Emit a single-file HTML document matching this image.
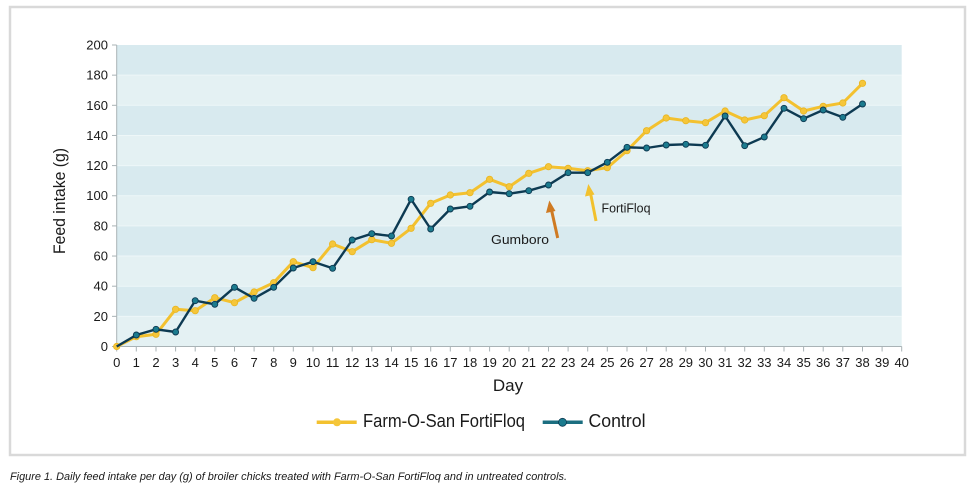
<!DOCTYPE html>
<html><head><meta charset="utf-8"><style>
html,body{margin:0;padding:0;background:#fff;width:978px;height:489px;overflow:hidden}
svg{display:block}
text{font-family:"Liberation Sans","DejaVu Sans",sans-serif;fill:#1a1a1a}
</style></head><body>
<svg width="978" height="489" viewBox="0 0 978 489" xmlns="http://www.w3.org/2000/svg">
<rect x="0" y="0" width="978" height="489" fill="#fff"/>
<rect x="10" y="7" width="955" height="448" fill="#fff" stroke="#d9d9d9" stroke-width="2.5"/>
<!-- bands -->
<rect x="116.7" y="45" width="785" height="30.15" fill="#d8eaef"/>
<rect x="116.7" y="75.15" width="785" height="30.15" fill="#e4f1f3"/>
<rect x="116.7" y="105.3" width="785" height="30.15" fill="#d8eaef"/>
<rect x="116.7" y="135.45" width="785" height="30.15" fill="#e4f1f3"/>
<rect x="116.7" y="165.6" width="785" height="30.15" fill="#d8eaef"/>
<rect x="116.7" y="195.75" width="785" height="30.15" fill="#e4f1f3"/>
<rect x="116.7" y="225.9" width="785" height="30.15" fill="#d8eaef"/>
<rect x="116.7" y="256.05" width="785" height="30.15" fill="#e4f1f3"/>
<rect x="116.7" y="286.2" width="785" height="30.15" fill="#d8eaef"/>
<rect x="116.7" y="316.35" width="785" height="30.15" fill="#e4f1f3"/>
<g stroke="#eef7f8" stroke-width="1">
<line x1="117" y1="75.15" x2="901.7" y2="75.15"/><line x1="117" y1="105.3" x2="901.7" y2="105.3"/>
<line x1="117" y1="135.45" x2="901.7" y2="135.45"/><line x1="117" y1="165.6" x2="901.7" y2="165.6"/>
<line x1="117" y1="195.75" x2="901.7" y2="195.75"/><line x1="117" y1="225.9" x2="901.7" y2="225.9"/>
<line x1="117" y1="256.05" x2="901.7" y2="256.05"/><line x1="117" y1="286.2" x2="901.7" y2="286.2"/>
<line x1="117" y1="316.35" x2="901.7" y2="316.35"/>
</g>
<!-- axes -->
<g stroke="#a9b3b6" stroke-width="1">
<line x1="116.7" y1="45" x2="116.7" y2="346.5"/>
<line x1="116.7" y1="346.5" x2="901.7" y2="346.5"/>
<line x1="112" y1="45" x2="116.7" y2="45"/><line x1="112" y1="75.15" x2="116.7" y2="75.15"/>
<line x1="112" y1="105.3" x2="116.7" y2="105.3"/><line x1="112" y1="135.45" x2="116.7" y2="135.45"/>
<line x1="112" y1="165.6" x2="116.7" y2="165.6"/><line x1="112" y1="195.75" x2="116.7" y2="195.75"/>
<line x1="112" y1="225.9" x2="116.7" y2="225.9"/><line x1="112" y1="256.05" x2="116.7" y2="256.05"/>
<line x1="112" y1="286.2" x2="116.7" y2="286.2"/><line x1="112" y1="316.35" x2="116.7" y2="316.35"/>
<line x1="112" y1="346.5" x2="116.7" y2="346.5"/>
<path d="M116.7 346.5v5M136.3 346.5v5M156 346.5v5M175.6 346.5v5M195.2 346.5v5M214.8 346.5v5M234.5 346.5v5M254.1 346.5v5M273.7 346.5v5M293.3 346.5v5M313 346.5v5M332.6 346.5v5M352.2 346.5v5M371.8 346.5v5M391.5 346.5v5M411.1 346.5v5M430.7 346.5v5M450.3 346.5v5M470 346.5v5M489.6 346.5v5M509.2 346.5v5M528.8 346.5v5M548.5 346.5v5M568.1 346.5v5M587.7 346.5v5M607.3 346.5v5M627 346.5v5M646.6 346.5v5M666.2 346.5v5M685.8 346.5v5M705.5 346.5v5M725.1 346.5v5M744.7 346.5v5M764.3 346.5v5M784 346.5v5M803.6 346.5v5M823.2 346.5v5M842.8 346.5v5M862.5 346.5v5M882.1 346.5v5M901.7 346.5v5"/>
</g>
<!-- y tick labels -->
<g font-size="13" text-anchor="end">
<text x="108" y="49.5">200</text><text x="108" y="79.6">180</text><text x="108" y="109.8">160</text>
<text x="108" y="139.9">140</text><text x="108" y="170.1">120</text><text x="108" y="200.2">100</text>
<text x="108" y="230.4">80</text><text x="108" y="260.5">60</text><text x="108" y="290.7">40</text>
<text x="108" y="320.8">20</text><text x="108" y="351">0</text>
</g>
<!-- x tick labels -->
<g font-size="13" text-anchor="middle">
<text x="116.7" y="367">0</text><text x="136.3" y="367">1</text><text x="156" y="367">2</text><text x="175.6" y="367">3</text><text x="195.2" y="367">4</text><text x="214.8" y="367">5</text><text x="234.5" y="367">6</text><text x="254.1" y="367">7</text><text x="273.7" y="367">8</text><text x="293.3" y="367">9</text><text x="313" y="367">10</text><text x="332.6" y="367">11</text><text x="352.2" y="367">12</text><text x="371.8" y="367">13</text><text x="391.5" y="367">14</text><text x="411.1" y="367">15</text><text x="430.7" y="367">16</text><text x="450.3" y="367">17</text><text x="470" y="367">18</text><text x="489.6" y="367">19</text><text x="509.2" y="367">20</text><text x="528.8" y="367">21</text><text x="548.5" y="367">22</text><text x="568.1" y="367">23</text><text x="587.7" y="367">24</text><text x="607.3" y="367">25</text><text x="627" y="367">26</text><text x="646.6" y="367">27</text><text x="666.2" y="367">28</text><text x="685.8" y="367">29</text><text x="705.5" y="367">30</text><text x="725.1" y="367">31</text><text x="744.7" y="367">32</text><text x="764.3" y="367">33</text><text x="784" y="367">34</text><text x="803.6" y="367">35</text><text x="823.2" y="367">36</text><text x="842.8" y="367">37</text><text x="862.5" y="367">38</text><text x="882.1" y="367">39</text><text x="901.7" y="367">40</text>
</g>
<!-- axis titles -->
<text x="0" y="0" font-size="17" text-anchor="middle" transform="translate(65,201) rotate(-90)" textLength="106" lengthAdjust="spacingAndGlyphs">Feed intake (g)</text>
<text x="508" y="391" font-size="17" text-anchor="middle">Day</text>
<!-- Farm-O-San line -->
<polyline fill="none" stroke="#f3c12f" stroke-width="3" stroke-linejoin="round" points="116.7,346.5 136.3,336.7 156,334.3 175.6,309.3 195.2,310.7 214.8,297.7 234.5,302.7 254.1,292 273.7,282.7 293.3,261.7 313,267.7 332.6,244 352.2,251.7 371.8,239.7 391.5,243.3 411.1,228.3 430.7,203.3 450.3,195 470,192.7 489.6,179.3 509.2,186.7 528.8,173.3 548.5,166.7 568.1,168.3 587.7,170.7 607.3,167.7 627,150.7 646.6,130.7 666.2,118 685.8,120.7 705.5,122.7 725.1,111 744.7,120 764.3,115.7 784,97.7 803.6,111 823.2,106.3 842.8,103 862.5,83.3"/>
<g fill="#f5c63a" stroke="#e9b520" stroke-width="0.8">
<circle cx="116.7" cy="346.5" r="3.2"/><circle cx="136.3" cy="336.7" r="3.2"/><circle cx="156" cy="334.3" r="3.2"/><circle cx="175.6" cy="309.3" r="3.2"/><circle cx="195.2" cy="310.7" r="3.2"/><circle cx="214.8" cy="297.7" r="3.2"/><circle cx="234.5" cy="302.7" r="3.2"/><circle cx="254.1" cy="292" r="3.2"/><circle cx="273.7" cy="282.7" r="3.2"/><circle cx="293.3" cy="261.7" r="3.2"/><circle cx="313" cy="267.7" r="3.2"/><circle cx="332.6" cy="244" r="3.2"/><circle cx="352.2" cy="251.7" r="3.2"/><circle cx="371.8" cy="239.7" r="3.2"/><circle cx="391.5" cy="243.3" r="3.2"/><circle cx="411.1" cy="228.3" r="3.2"/><circle cx="430.7" cy="203.3" r="3.2"/><circle cx="450.3" cy="195" r="3.2"/><circle cx="470" cy="192.7" r="3.2"/><circle cx="489.6" cy="179.3" r="3.2"/><circle cx="509.2" cy="186.7" r="3.2"/><circle cx="528.8" cy="173.3" r="3.2"/><circle cx="548.5" cy="166.7" r="3.2"/><circle cx="568.1" cy="168.3" r="3.2"/><circle cx="587.7" cy="170.7" r="3.2"/><circle cx="607.3" cy="167.7" r="3.2"/><circle cx="627" cy="150.7" r="3.2"/><circle cx="646.6" cy="130.7" r="3.2"/><circle cx="666.2" cy="118" r="3.2"/><circle cx="685.8" cy="120.7" r="3.2"/><circle cx="705.5" cy="122.7" r="3.2"/><circle cx="725.1" cy="111" r="3.2"/><circle cx="744.7" cy="120" r="3.2"/><circle cx="764.3" cy="115.7" r="3.2"/><circle cx="784" cy="97.7" r="3.2"/><circle cx="803.6" cy="111" r="3.2"/><circle cx="823.2" cy="106.3" r="3.2"/><circle cx="842.8" cy="103" r="3.2"/><circle cx="862.5" cy="83.3" r="3.2"/>
</g>
<!-- Control line -->
<polyline fill="none" stroke="#0d3a52" stroke-width="2.4" stroke-linejoin="round" points="116.7,346.5 136.3,335 156,329.3 175.6,332 195.2,300.7 214.8,304.3 234.5,287.3 254.1,298.3 273.7,287.3 293.3,268 313,261.7 332.6,268.3 352.2,240 371.8,233.7 391.5,236 411.1,199.3 430.7,229 450.3,209 470,206.3 489.6,192 509.2,193.7 528.8,190.7 548.5,185 568.1,172.7 587.7,172.7 607.3,162.3 627,147.3 646.6,148 666.2,145 685.8,144.3 705.5,145.3 725.1,116 744.7,145.7 764.3,137 784,108.3 803.6,118.7 823.2,110 842.8,117.3 862.5,104"/>
<g fill="#1b7b8e" stroke="#0d3a52" stroke-width="0.9">
<circle cx="136.3" cy="335" r="3"/><circle cx="156" cy="329.3" r="3"/><circle cx="175.6" cy="332" r="3"/><circle cx="195.2" cy="300.7" r="3"/><circle cx="214.8" cy="304.3" r="3"/><circle cx="234.5" cy="287.3" r="3"/><circle cx="254.1" cy="298.3" r="3"/><circle cx="273.7" cy="287.3" r="3"/><circle cx="293.3" cy="268" r="3"/><circle cx="313" cy="261.7" r="3"/><circle cx="332.6" cy="268.3" r="3"/><circle cx="352.2" cy="240" r="3"/><circle cx="371.8" cy="233.7" r="3"/><circle cx="391.5" cy="236" r="3"/><circle cx="411.1" cy="199.3" r="3"/><circle cx="430.7" cy="229" r="3"/><circle cx="450.3" cy="209" r="3"/><circle cx="470" cy="206.3" r="3"/><circle cx="489.6" cy="192" r="3"/><circle cx="509.2" cy="193.7" r="3"/><circle cx="528.8" cy="190.7" r="3"/><circle cx="548.5" cy="185" r="3"/><circle cx="568.1" cy="172.7" r="3"/><circle cx="587.7" cy="172.7" r="3"/><circle cx="607.3" cy="162.3" r="3"/><circle cx="627" cy="147.3" r="3"/><circle cx="646.6" cy="148" r="3"/><circle cx="666.2" cy="145" r="3"/><circle cx="685.8" cy="144.3" r="3"/><circle cx="705.5" cy="145.3" r="3"/><circle cx="725.1" cy="116" r="3"/><circle cx="744.7" cy="145.7" r="3"/><circle cx="764.3" cy="137" r="3"/><circle cx="784" cy="108.3" r="3"/><circle cx="803.6" cy="118.7" r="3"/><circle cx="823.2" cy="110" r="3"/><circle cx="842.8" cy="117.3" r="3"/><circle cx="862.5" cy="104" r="3"/>
</g>
<!-- annotation arrows -->
<line x1="557.7" y1="238" x2="551.5" y2="210" stroke="#cf7a22" stroke-width="3"/>
<polygon points="549.3,200.5 555.5,211 546,213" fill="#cf7a22"/>
<line x1="596" y1="221" x2="590.5" y2="193" stroke="#f2c12e" stroke-width="3"/>
<polygon points="588.3,184 594.5,194.5 585,196.5" fill="#f2c12e"/>
<text x="491" y="244" font-size="13" textLength="58" lengthAdjust="spacingAndGlyphs">Gumboro</text>
<text x="601.5" y="212.7" font-size="13" textLength="49" lengthAdjust="spacingAndGlyphs">FortiFloq</text>
<!-- legend -->
<line x1="316.7" y1="422.3" x2="356.7" y2="422.3" stroke="#f3c12f" stroke-width="3.5"/>
<circle cx="337" cy="422.3" r="4" fill="#f5c63a"/>
<text x="363" y="427" font-size="18" textLength="162" lengthAdjust="spacingAndGlyphs">Farm-O-San FortiFloq</text>
<line x1="542.7" y1="422.3" x2="582.7" y2="422.3" stroke="#1b6e80" stroke-width="3.5"/>
<circle cx="562.5" cy="422.3" r="4" fill="#1b7b8e" stroke="#0d3a52" stroke-width="0.8"/>
<text x="588.5" y="427" font-size="18" textLength="57" lengthAdjust="spacingAndGlyphs">Control</text>
<!-- caption -->
<text x="10" y="480" font-size="11" font-style="italic" fill="#2a2a2a" textLength="557" lengthAdjust="spacingAndGlyphs">Figure 1. Daily feed intake per day (g) of broiler chicks treated with Farm-O-San FortiFloq and in untreated controls.</text>
</svg>
</body></html>
